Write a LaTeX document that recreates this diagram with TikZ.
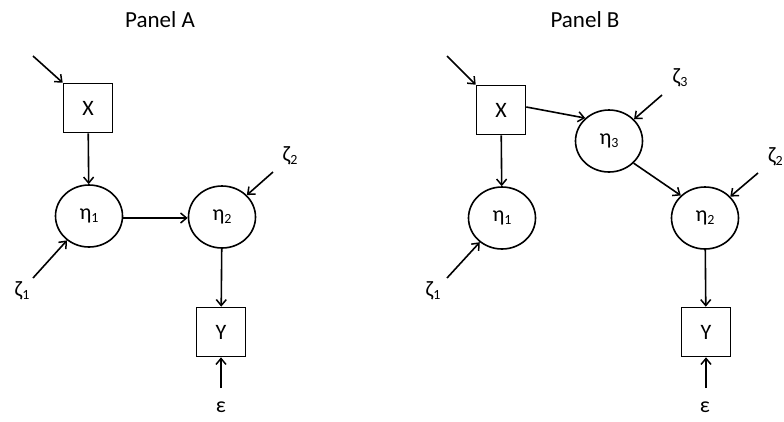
\documentclass[tikz,border=0pt]{standalone}
\usepackage{fontspec}
\setmainfont{Carlito}
\usetikzlibrary{arrows.meta,shapes.geometric}
\newcommand{\sbs}[1]{\raisebox{-0.3ex}{\fontsize{14}{14}\selectfont #1}}
\begin{document}
\begin{tikzpicture}[x=1pt,y=-1pt,
  every node/.style={font=\fontsize{22}{22}\selectfont, inner sep=0pt},
  obs/.style={draw, line width=1.6pt, rectangle, minimum width=49pt, minimum height=49pt},
  lat/.style={draw, line width=1.6pt, ellipse, minimum width=67pt, minimum height=62pt},
  lbl/.style={},
  ttl/.style={font=\fontsize{23}{23}\selectfont},
  arr/.style={line width=1.6pt, -{Straight Barb[length=6pt,width=10pt,line width=1.5pt]}}
]
\useasboundingbox (0,0) rectangle (784,421);
% Panel A
\node[ttl] (titleA) at (160,20) {Panel A};
\node[obs] (XA) at (88,108) {X};
\node[lat] (e1A) at (89,216) {η\sbs{1}};
\node[lat] (e2A) at (222,217) {η\sbs{2}};
\node[obs] (YA) at (221,332) {Y};
\node[lbl] (z1A) at (22,291) {ζ\sbs{1}};
\node[lbl] (z2A) at (290,156) {ζ\sbs{2}};
\node[lbl] (epsA) at (221,407) {ε};
\coordinate (inXA) at (33,56);
\coordinate (z1As) at (33,278);
\coordinate (z2As) at (273,172);
\coordinate (epsAs) at (221,388);
\draw[arr] (inXA) -- (XA.north west);
\draw[arr] (XA) -- (e1A);
\draw[arr] (e1A.east |- 0,218) -- (e2A.west |- 0,218);
\draw[arr] (z1As) -- (e1A);
\draw[arr] (z2As) -- (e2A);
\draw[arr] (e2A) -- (YA);
\draw[arr] (epsAs) -- (YA);
% Panel B
\node[ttl] (titleB) at (585,20) {Panel B};
\node[obs] (XB) at (501,110) {X};
\node[lat] (e3B) at (609,141) {η\sbs{3}};
\node[lat] (e1B) at (502,218) {η\sbs{1}};
\node[lat] (e2B) at (705,218) {η\sbs{2}};
\node[obs] (YB) at (706,332) {Y};
\node[lbl] (z3B) at (680,78) {ζ\sbs{3}};
\node[lbl] (z1B) at (433,291) {ζ\sbs{1}};
\node[lbl, anchor=east] (z2B) at (783,157) {ζ\sbs{2}};
\node[lbl] (epsB) at (705,407) {ε};
\coordinate (inXB) at (447,56);
\coordinate (z3Bs) at (662,95);
\coordinate (z1Bs) at (447,278);
\coordinate (z2Bs) at (758,173);
\coordinate (epsBs) at (706,388);
\draw[arr] (inXB) -- (XB.north west);
\draw[arr] (XB.east |- 0,107) -- (e3B.136);
\draw[arr] (XB) -- (e1B);
\draw[arr] (e3B.-42) -- (e2B.137);
\draw[arr] (z3Bs) -- (e3B);
\draw[arr] (z1Bs) -- (e1B);
\draw[arr] (z2Bs) -- (e2B);
\draw[arr] (e2B) -- (YB);
\draw[arr] (epsBs) -- (YB);
\end{tikzpicture}
\end{document}
